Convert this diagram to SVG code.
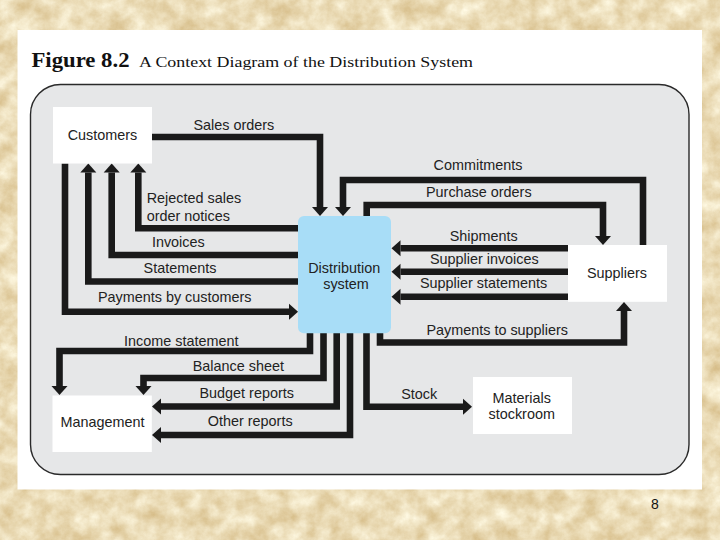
<svg xmlns="http://www.w3.org/2000/svg" width="720" height="540" viewBox="0 0 720 540">
  <defs>
    <filter id="parch" x="0" y="0" width="100%" height="100%" color-interpolation-filters="sRGB">
      <feTurbulence type="fractalNoise" baseFrequency="0.055" numOctaves="5" seed="11" result="n"/>
      <feColorMatrix in="n" type="matrix" values="0.2 0 0 0 0.82  0.3 0 0 0 0.71  0.45 0 0 0 0.49  0 0 0 0 1"/>
    </filter>
    <marker id="arr" markerUnits="userSpaceOnUse" viewBox="0 -8 9 16" refX="0" refY="0" markerWidth="9" markerHeight="16" orient="auto" overflow="visible">
      <path d="M0,-8 L9,0 L0,8 Z" fill="#1a1a1a"/>
    </marker>
    <style>
      .lbl { font-family: "Liberation Sans", Arial, sans-serif; font-size: 14.4px; fill: #222; text-anchor: middle; }
      .lbl-start { text-anchor: start; }
      .box { fill: #ffffff; }
      .flow { fill: none; stroke: #1a1a1a; stroke-width: 6.6; stroke-linejoin: miter; stroke-linecap: butt; marker-end: url(#arr); }
    </style>
  </defs>

  <!-- parchment background -->
  <rect x="0" y="0" width="720" height="540" fill="#ecdcb3"/>
  <rect x="0" y="0" width="720" height="540" filter="url(#parch)"/>

  <!-- white slide panel -->
  <rect x="17.5" y="30" width="684.5" height="459.5" fill="#ffffff"/>

  <!-- title -->
  <text x="31.5" y="66.5" font-family="'Liberation Serif', 'Times New Roman', serif" font-weight="bold" font-size="20" textLength="98" lengthAdjust="spacingAndGlyphs" fill="#111">Figure 8.2</text>
  <text x="139" y="66.5" font-family="'Liberation Serif', 'Times New Roman', serif" font-size="15.5" textLength="334" lengthAdjust="spacingAndGlyphs" fill="#111">A Context Diagram of the Distribution System</text>

  <!-- diagram frame -->
  <rect x="30.5" y="84.5" width="658.5" height="390" rx="30" ry="30" fill="#e6e7e8" stroke="#2a2a2a" stroke-width="1.4"/>

  <!-- connectors -->
  <g id="connectors">
    <path class="flow" d="M152,137 H320 V207"/>
    <path class="flow" d="M643,245 V180 H343 V207"/>
    <path class="flow" d="M366.7,216 V205 H603 V236"/>
    <path class="flow" d="M568,248.3 H400.5"/>
    <path class="flow" d="M568,271.7 H400.5"/>
    <path class="flow" d="M568,296.7 H400.5"/>
    <path class="flow" d="M380,333 V342.5 H624 V311"/>
    <path class="flow" d="M298,228.3 H138.3 V172.5"/>
    <path class="flow" d="M298,255 H111.7 V172.5"/>
    <path class="flow" d="M298,281.5 H88.3 V172.5"/>
    <path class="flow" d="M65,163.5 V311.7 H289"/>
    <path class="flow" d="M310,333 V351 H59.5 V386"/>
    <path class="flow" d="M323.5,333 V378 H143.5 V386"/>
    <path class="flow" d="M336.7,333 V406.5 H161"/>
    <path class="flow" d="M350,333 V435 H161"/>
    <path class="flow" d="M366.5,333 V406.7 H463"/>
  </g>

  <!-- connector labels -->
  <g id="labels">
    <text class="lbl" x="233.8" y="129.5">Sales orders</text>
    <text class="lbl lbl-start" x="146.7" y="203.3">Rejected sales</text>
    <text class="lbl lbl-start" x="146.7" y="220.7">order notices</text>
    <text class="lbl" x="178.3" y="247.3">Invoices</text>
    <text class="lbl" x="180" y="273.3">Statements</text>
    <text class="lbl" x="174.7" y="302.3">Payments by customers</text>
    <text class="lbl" x="478" y="170">Commitments</text>
    <text class="lbl" x="478.8" y="196.7">Purchase orders</text>
    <text class="lbl" x="483.7" y="241">Shipments</text>
    <text class="lbl" x="484.3" y="264.3">Supplier invoices</text>
    <text class="lbl" x="483.5" y="288.3">Supplier statements</text>
    <text class="lbl" x="497.2" y="335">Payments to suppliers</text>
    <text class="lbl" x="181.3" y="346">Income statement</text>
    <text class="lbl" x="238.3" y="370.7">Balance sheet</text>
    <text class="lbl" x="246.7" y="398.3">Budget reports</text>
    <text class="lbl" x="250.2" y="426">Other reports</text>
    <text class="lbl" x="419.2" y="399.3">Stock</text>
  </g>

  <!-- nodes -->
  <g id="customers">
    <rect class="box" x="53" y="107" width="99" height="56.5"/>
    <text class="lbl" x="102.5" y="140">Customers</text>
  </g>
  <g id="distribution-system">
    <rect x="298" y="216" width="93" height="117.3" rx="6" ry="6" fill="#a8ddf7"/>
    <text class="lbl" x="344.2" y="272.7">Distribution</text>
    <text class="lbl" x="346" y="289">system</text>
  </g>
  <g id="suppliers">
    <rect class="box" x="568" y="245" width="99" height="56.8"/>
    <text class="lbl" x="617" y="278.3">Suppliers</text>
  </g>
  <g id="management">
    <rect class="box" x="52.5" y="395.5" width="99.3" height="56.5"/>
    <text class="lbl" x="102.5" y="426.7">Management</text>
  </g>
  <g id="materials-stockroom">
    <rect class="box" x="473" y="377" width="99" height="57"/>
    <text class="lbl" x="521.7" y="402.7">Materials</text>
    <text class="lbl" x="521.7" y="419.3">stockroom</text>
  </g>

  <!-- page number -->
  <text x="655" y="509.3" font-family="'Liberation Sans', Arial, sans-serif" font-size="14" text-anchor="middle" fill="#111">8</text>
</svg>
